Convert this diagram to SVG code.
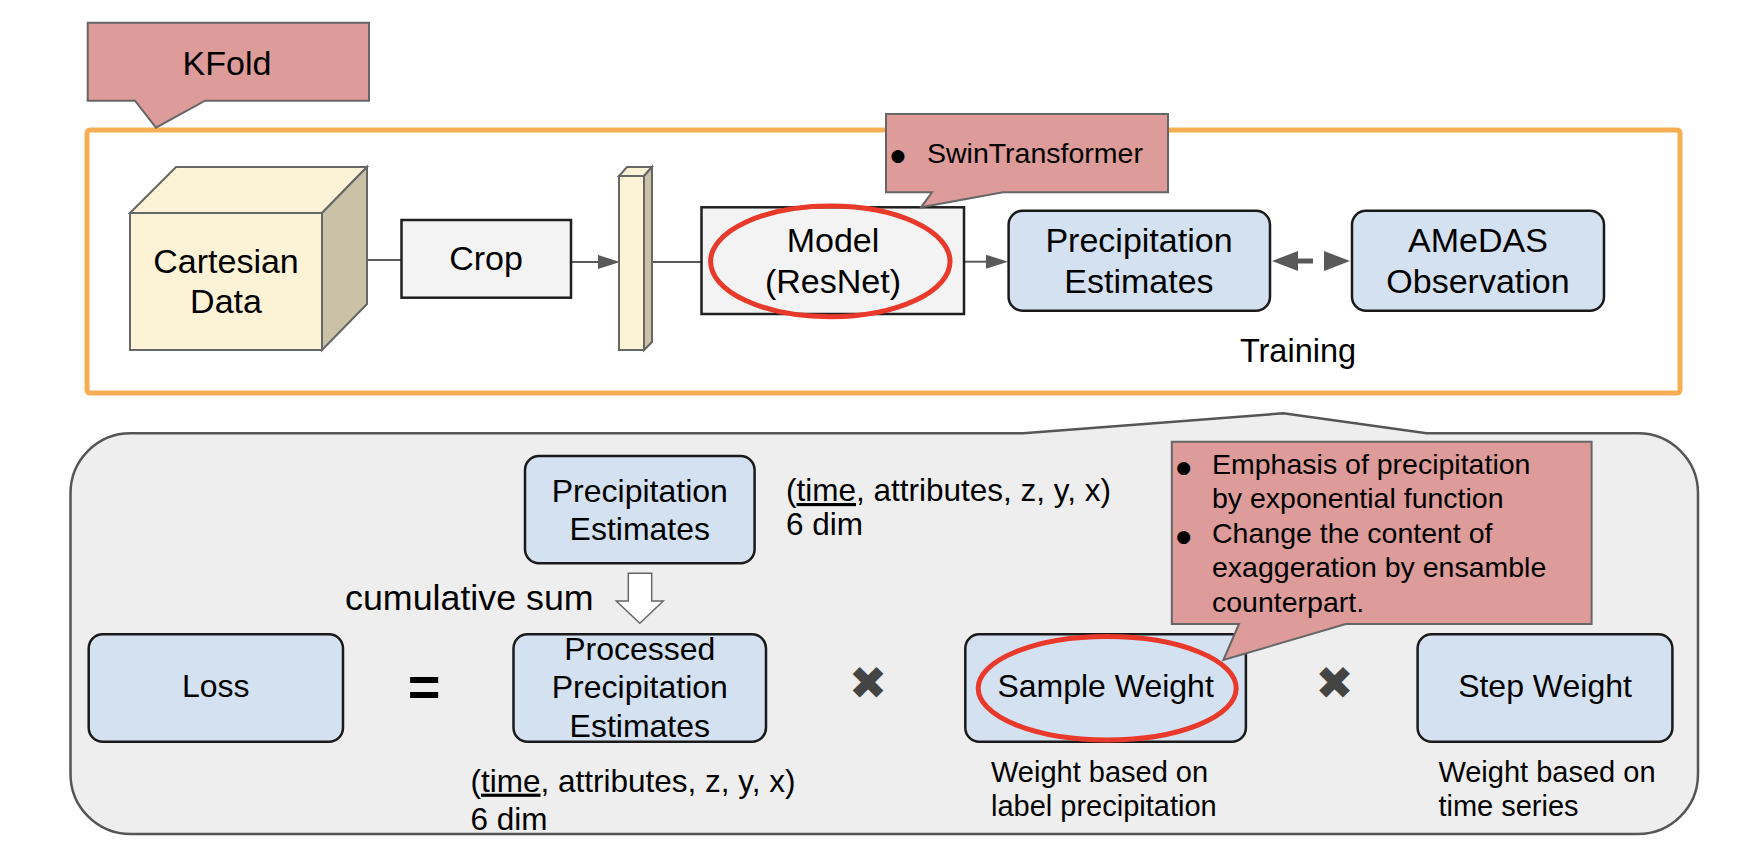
<svg xmlns="http://www.w3.org/2000/svg" width="1760" height="860" viewBox="0 0 1760 860">
<style>
text{font-family:"Liberation Sans",Arial,Helvetica,sans-serif;fill:#000}
.t34{font-size:34px;text-anchor:middle}
.t32{font-size:32px;text-anchor:middle}
.n32{font-size:31.5px}
.call{fill:#dd9b99;stroke:#666;stroke-width:2}
.gbox{fill:#f3f3f3;stroke:#1f1f1f;stroke-width:2.5}
.bbox{fill:#d4e1f1;stroke:#1a1a1a;stroke-width:2.5}
.ring{fill:none;stroke:#e8392a;stroke-width:5}
.conn{stroke:#595959;stroke-width:2;fill:none}
.bul{font-family:"DejaVu Sans",sans-serif;font-size:17px}
.mul{font-family:"DejaVu Sans",sans-serif;font-size:46px;fill:#444;text-anchor:middle}
.ct{font-size:28.5px}
</style>
<defs>
<marker id="ah" viewBox="0 0 22 14" refX="0" refY="7" markerWidth="22" markerHeight="14" markerUnits="userSpaceOnUse" orient="auto"><path d="M0,0 L22,7 L0,14 Z" fill="#595959"/></marker>
<marker id="bh" viewBox="0 0 26 20" refX="0" refY="10" markerWidth="26" markerHeight="20" markerUnits="userSpaceOnUse" orient="auto-start-reverse"><path d="M0,0 L26,10 L0,20 Z" fill="#595959"/></marker>
</defs>
<rect width="1760" height="860" fill="#fff"/>

<g id="training-frame">
<rect x="87" y="130" width="1593" height="263" rx="3" fill="#fff" stroke="#f5ae52" stroke-width="5"/>
<text x="1298" y="361.7" style="font-size:32.5px;text-anchor:middle">Training</text>
</g>

<g id="kfold">
<path class="call" d="M87.7,22.7 H369 V100.7 H205 L156,127.7 L135,100.7 H87.7 Z"/>
<text x="227" y="75" class="t34">KFold</text>
</g>

<g id="loss-panel">
<path d="M130.5,433.3 H1023.3 L1283.3,413.3 L1426.7,433.3 H1638 A60,60 0 0 1 1698,493.3 V774 A60,60 0 0 1 1638,834 H130.5 A60,60 0 0 1 70.5,774 V493.3 A60,60 0 0 1 130.5,433.3 Z" fill="#eeeeee" stroke="#555" stroke-width="2.5"/>
</g>

<g id="connectors">
<line class="conn" x1="325" y1="260" x2="401.5" y2="260"/>
<line class="conn" x1="571" y1="262" x2="598" y2="262" marker-end="url(#ah)"/>
<line class="conn" x1="644" y1="262" x2="701.5" y2="262"/>
<line class="conn" x1="964" y1="261.7" x2="986" y2="261.7" marker-end="url(#ah)"/>
<line x1="1298" y1="261" x2="1324" y2="261" stroke="#595959" stroke-width="5" stroke-dasharray="15 11" marker-start="url(#bh)" marker-end="url(#bh)"/>
<polygon points="628.3,573.3 651.7,573.3 651.7,601 663.3,601 639.8,623.3 616.3,601 628.3,601" fill="#fff" stroke="#666" stroke-width="1.5"/>
</g>

<g id="cartesian-data">
<polygon points="130,213 176,167 367,167 322,213" fill="#fcf2d5" stroke="#666" stroke-width="2"/>
<polygon points="322,213 367,167 367,304 322,350" fill="#c9c2a6" stroke="#666" stroke-width="2"/>
<rect x="130" y="213" width="192" height="137" fill="#fcf2d5" stroke="#666" stroke-width="2"/>
<text x="226" y="273" class="t34">Cartesian</text>
<text x="226" y="313" class="t34">Data</text>
</g>

<g id="crop">
<rect class="gbox" x="401.5" y="220" width="169.5" height="77.7"/>
<text x="486" y="270" class="t34">Crop</text>
</g>

<g id="slab">
<polygon points="619,176 627,167 652,167 644,176" fill="#fcf2d5" stroke="#666" stroke-width="2"/>
<polygon points="644,176 652,167 652,342 644,350" fill="#c9c2a6" stroke="#666" stroke-width="2"/>
<rect x="619" y="176" width="25" height="174" fill="#fcf2d5" stroke="#666" stroke-width="2"/>
</g>

<g id="model">
<rect class="gbox" x="701.5" y="207.3" width="262.5" height="106.7"/>
<text x="833" y="251.7" class="t34">Model</text>
<text x="833" y="293" class="t34">(ResNet)</text>
<ellipse class="ring" cx="830.3" cy="261.4" rx="119.7" ry="55.3"/>
</g>

<g id="swin-callout">
<path class="call" d="M886,114 H1168 V192.3 H1003 L921,207.3 L932,192.3 H886 Z"/>
<text x="898" y="161" class="bul" text-anchor="middle">●</text>
<text x="927" y="163" class="ct">SwinTransformer</text>
</g>

<g id="precip-estimates">
<rect class="bbox" x="1008.6" y="210.7" width="261.4" height="100" rx="14"/>
<text x="1139" y="251.7" class="t34">Precipitation</text>
<text x="1139" y="292.7" class="t34">Estimates</text>
</g>

<g id="amedas">
<rect class="bbox" x="1352" y="210.7" width="252" height="100" rx="14"/>
<text x="1478" y="251.7" class="t34">AMeDAS</text>
<text x="1478" y="292.7" class="t34">Observation</text>
</g>

<g id="pe-bottom">
<rect class="bbox" x="525" y="456" width="229.6" height="107.3" rx="14"/>
<text x="639.8" y="501.7" class="t32">Precipitation</text>
<text x="639.8" y="540" class="t32">Estimates</text>
</g>

<g id="dims-top">
<text x="786" y="501" class="n32">(<tspan text-decoration="underline">time</tspan>, attributes, z, y, x)</text>
<text x="786" y="535" class="n32">6 dim</text>
</g>

<text id="cumsum" x="345" y="610" style="font-size:35.8px">cumulative sum</text>

<g id="loss">
<rect class="bbox" x="88.7" y="634.3" width="254.3" height="107.4" rx="14"/>
<text x="215.8" y="696.7" class="t32">Loss</text>
</g>

<text id="equals" x="424" y="706" style="font-size:56px;font-weight:bold;text-anchor:middle">=</text>

<g id="processed">
<rect class="bbox" x="513.5" y="634.3" width="252.5" height="107.4" rx="14"/>
<text x="639.8" y="660" class="t32">Processed</text>
<text x="639.8" y="698.3" class="t32">Precipitation</text>
<text x="639.8" y="736.7" class="t32">Estimates</text>
</g>

<text id="times1" x="868" y="699" class="mul">✖</text>

<g id="sample-weight">
<rect class="bbox" x="965.3" y="634.3" width="280.6" height="107.4" rx="14"/>
<text x="1105.6" y="696.7" class="t32">Sample Weight</text>
<ellipse class="ring" cx="1107.2" cy="688.3" rx="129" ry="51.7"/>
</g>

<text id="times2" x="1334.5" y="699" class="mul">✖</text>

<g id="step-weight">
<rect class="bbox" x="1417.6" y="634.3" width="254.8" height="107.4" rx="14"/>
<text x="1545" y="696.7" class="t32">Step Weight</text>
</g>

<g id="weight-callout">
<path class="call" d="M1171.8,441.7 H1591.6 V624 H1345.8 L1223.4,660 L1239,624 H1171.8 Z"/>
<text x="1183.6" y="473" class="bul" text-anchor="middle">●</text>
<text x="1212" y="473.5" class="ct">Emphasis of precipitation</text>
<text x="1212" y="508" class="ct">by exponential function</text>
<text x="1183.6" y="541.5" class="bul" text-anchor="middle">●</text>
<text x="1212" y="542.5" class="ct">Change the content of</text>
<text x="1212" y="577" class="ct">exaggeration by ensamble</text>
<text x="1212" y="611.5" class="ct">counterpart.</text>
</g>

<g id="dims-bottom">
<text x="470.5" y="791.7" class="n32">(<tspan text-decoration="underline">time</tspan>, attributes, z, y, x)</text>
<text x="470.5" y="830" class="n32">6 dim</text>
</g>

<g id="sample-note">
<text x="991" y="781.7" style="font-size:29px">Weight based on</text>
<text x="991" y="816" style="font-size:29px">label precipitation</text>
</g>

<g id="step-note">
<text x="1438.4" y="781.7" style="font-size:29px">Weight based on</text>
<text x="1438.4" y="816" style="font-size:29px">time series</text>
</g>
</svg>
